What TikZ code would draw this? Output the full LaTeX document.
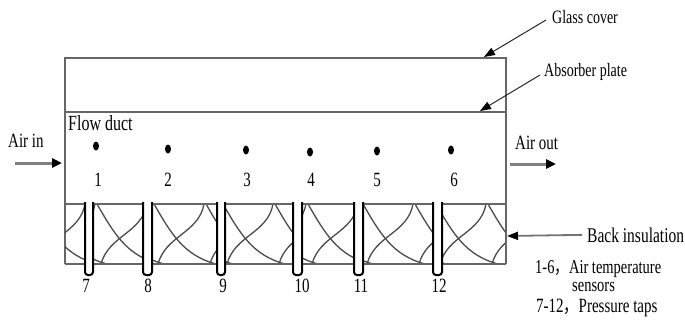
\documentclass[tikz,border=0pt]{standalone}
\usepackage{fontspec}
\usepackage{graphicx}
\setmainfont{Liberation Serif}
\newfontfamily\cjkfont{Noto Sans CJK SC}
\usetikzlibrary{arrows.meta,shapes.geometric}
% labels are set tall and narrow
\newcommand\tallbox[1]{\scalebox{1}[1.35]{#1}}

\begin{document}
\begin{tikzpicture}[x=1pt,y=-1pt,
  frame/.style={draw=black!60, line width=1.3pt},
  insl/.style={draw=black!70, line width=1.3pt},
  tube/.style={draw=black, line width=2pt, fill=white, rounded corners=3pt},
  lbl/.style={inner sep=0pt, font=\fontsize{15}{18}\selectfont},
  ptr/.style={draw=black!85, line width=1pt, -{Triangle[length=11pt,width=8pt,color=black]}},
  flow/.style={draw=black!50, line width=3pt, -{Triangle[length=10pt,width=9pt,color=black]}},
  sensor/.style={ellipse, fill=black, minimum width=6pt, minimum height=9pt, inner sep=0pt}
]
\useasboundingbox (0,0) rectangle (685,325);

% collector casing: glass cover, absorber plate, duct walls
\draw[frame] (65,264) -- (65,58) -- (506,58) -- (506,264);
\draw[frame] (65,112) -- (506,112);

% back insulation layer: crossing sweeps and S-curves
\foreach \a/\b/\p in {65/85/-30, 93/143/4, 152/217/2, 225/293/-2, 302/354/6, 363/433/0, 442/505/-6} {
  \begin{scope}
    \clip (\a,204) rectangle (\b,264);
    \foreach \k in {-2,-1,0,1,2} {
      \draw[insl] (\a+\p+\k*52,204) to[out=-60,in=165] (\a+\p+\k*52+62,264);
      \draw[insl] (\a+\p+\k*52+50,204) to[out=-100,in=75] (\a+\p+\k*52+4,264);
    }
  \end{scope}
}
\draw[frame] (65,204) -- (506,204);
\draw[frame] (65,264) -- (506,264);

% pressure taps through the insulation
\foreach \l/\r in {85/93, 143/152, 217/225, 293/302, 354/363, 433/442} {
  \draw[tube] (\l,202) -- (\l,275) -- (\r,275) -- (\r,202);
}

% air temperature sensors
\node[sensor] (s1) at (96,146) {};
\node[sensor] (s2) at (168,149) {};
\node[sensor] (s3) at (246,150) {};
\node[sensor] (s4) at (310,152) {};
\node[sensor] (s5) at (377,151) {};
\node[sensor] (s6) at (451,150) {};

\foreach \n/\x in {1/98, 2/168, 3/247, 4/311, 5/377, 6/454} {
  \node[lbl, anchor=base] (n\n) at (\x,186) {\tallbox{\n}};
}
\foreach \n/\x in {7/86, 8/148, 9/223, 10/302, 11/361, 12/439} {
  \node[lbl, anchor=base] (n\n) at (\x,292) {\tallbox{\n}};
}

% labels
\node[lbl, anchor=base west] (flowduct) at (68,130) {\fontsize{16}{18}\selectfont\tallbox{Flow duct}};
\node[lbl, anchor=base west] (airin) at (8,147) {\tallbox{Air in}};
\node[lbl, anchor=base west] (airout) at (515,149) {\tallbox{Air out}};
\node[lbl, anchor=base west] (glass) at (552,23) {\fontsize{14}{18}\selectfont\tallbox{Glass cover}};
\node[lbl, anchor=base west] (absorber) at (544,76) {\fontsize{14}{18}\selectfont\tallbox{Absorber plate}};
\node[lbl, anchor=base west] (back) at (587,242) {\fontsize{15.5}{18}\selectfont\tallbox{Back insulation}};
\node[lbl, anchor=base west] (legA) at (535,273) {\fontsize{14.5}{18}\selectfont\tallbox{1-6{\cjkfont ，}Air temperature}};
\node[lbl, anchor=base west] (legB) at (572,291) {\fontsize{14.5}{18}\selectfont\tallbox{sensors}};
\node[lbl, anchor=base west] (legC) at (536,312) {\fontsize{15}{18}\selectfont\tallbox{7-12{\cjkfont ，}Pressure taps}};

% pointers
\coordinate (glasstip) at (484,57);
\coordinate (absorbertip) at (480,111);
\coordinate (backtip) at (507,236);
\draw[ptr] ([xshift=-6pt,yshift=3pt]glass.base west) -- (glasstip);
\draw[ptr] ([xshift=-4pt,yshift=1pt]absorber.base west) -- (absorbertip);
\draw[ptr, draw=black!55, line width=1.8pt] ([xshift=-5pt]back.west) -- (backtip);

% air flow arrows
\coordinate (inA) at (15,163);
\coordinate (inB) at (62,163);
\coordinate (outA) at (510,164);
\coordinate (outB) at (556,164);
\draw[flow] (inA) -- (inB);
\draw[flow] (outA) -- (outB);
\end{tikzpicture}
\end{document}
